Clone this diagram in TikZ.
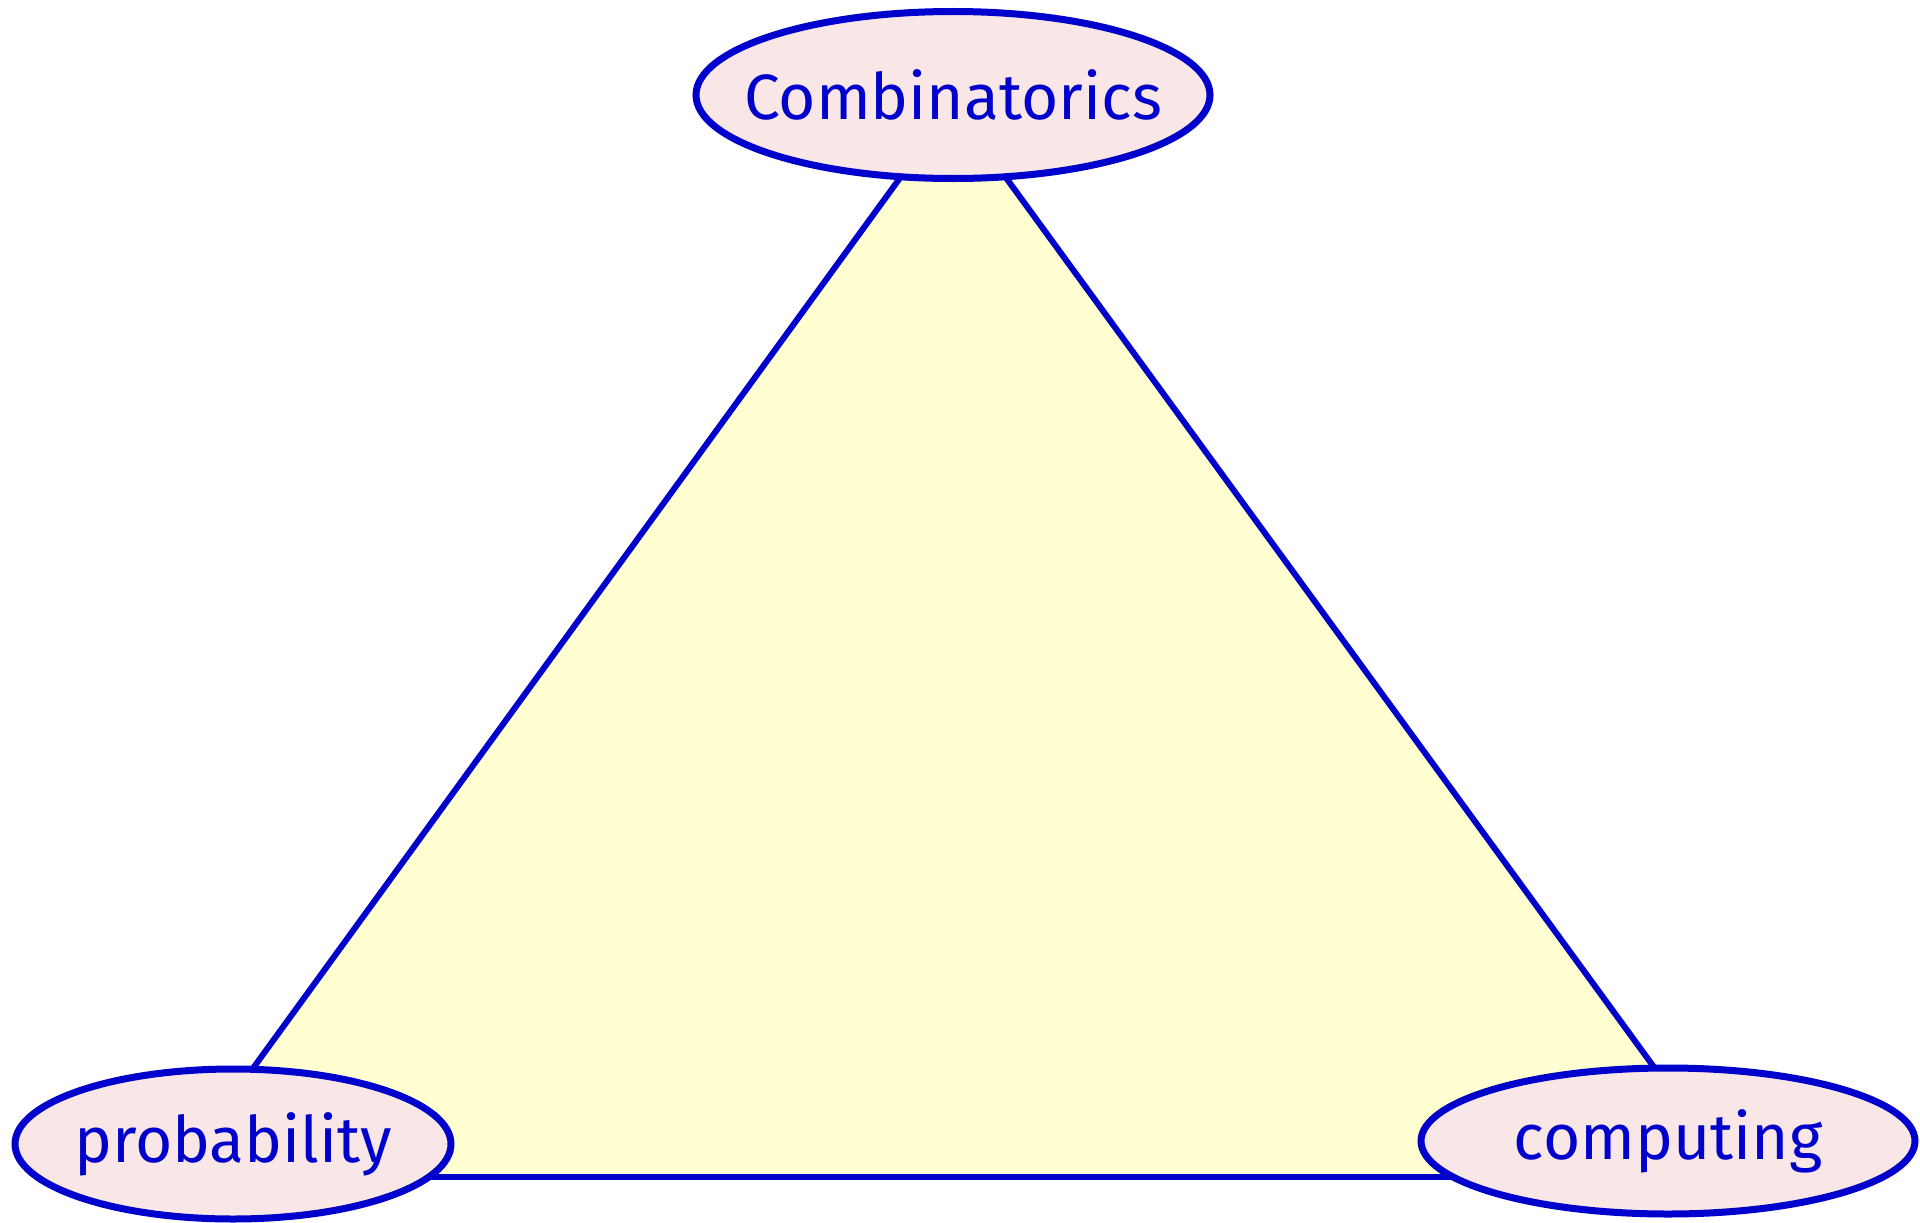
\documentclass[tikz,border=0pt]{standalone}
\usepackage{fontspec}
\setmainfont{Fira Sans}
\usetikzlibrary{shapes.geometric}
\definecolor{lineblue}{HTML}{0000CC}
\definecolor{ellfill}{HTML}{F9E6E6}
\definecolor{trifill}{HTML}{FFFFD2}
\tikzset{
  topic/.style={ellipse, draw=lineblue, fill=ellfill, line width=7pt, inner sep=0pt},
  topictext/.style={text=lineblue, inner sep=0pt, font=\fontsize{64}{70}\selectfont},
  edge/.style={draw=lineblue, line width=6pt}
}
\begin{document}
\begin{tikzpicture}[x=1pt,y=-1pt]
\useasboundingbox (0,0) rectangle (1920,1223);
\coordinate (A) at (953,105);
\coordinate (L) at (174,1177);
\coordinate (R) at (1734,1177);
\fill[trifill] (A) -- (L) -- (R) -- cycle;
\draw[edge] (A) -- (L);
\draw[edge] (A) -- (R);
\draw[edge] (L) -- (R);
\node[topic, minimum width=514pt, minimum height=167pt] (comb) at (953,95) {};
\node[topic, minimum width=436pt, minimum height=150pt] (prob) at (233,1144) {};
\node[topic, minimum width=494pt, minimum height=146pt] (comp) at (1668,1141) {};
\node[topictext] (combt) at (comb.center) {Combinatorics};
\node[topictext] (probt) at (prob.center) {probability};
\node[topictext] (compt) at (comp.center) {computing};
\end{tikzpicture}
\end{document}
